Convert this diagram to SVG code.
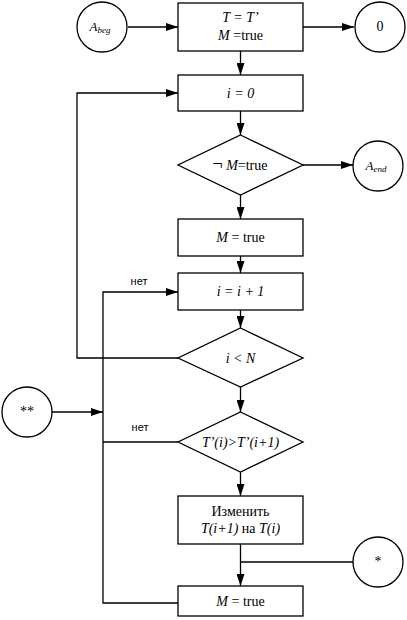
<svg xmlns="http://www.w3.org/2000/svg" width="407" height="620" viewBox="0 0 407 620">
<style>
.s{fill:#fff;stroke:#000;stroke-width:1.3}
.l{fill:none;stroke:#000;stroke-width:1.3}
.n{font-family:"Liberation Sans",Arial,sans-serif;font-size:11px;fill:#000;text-anchor:middle}
</style>
<defs>
<marker id="a" viewBox="0 0 12 8" refX="12" refY="4" markerWidth="12" markerHeight="8" markerUnits="userSpaceOnUse" orient="auto">
<path d="M0,0 L12,4 L0,8 Z" fill="#000"/>
</marker>
</defs>
<rect width="407" height="620" fill="#fff"/>
<g id="connectors">
<line class="l" x1="128" y1="27" x2="178" y2="27" marker-end="url(#a)"/>
<line class="l" x1="303" y1="27" x2="354" y2="27" marker-end="url(#a)"/>
<line class="l" x1="240.5" y1="51" x2="240.5" y2="75" marker-end="url(#a)"/>
<line class="l" x1="240.5" y1="111" x2="240.5" y2="135" marker-end="url(#a)"/>
<line class="l" x1="303" y1="165" x2="353" y2="165" marker-end="url(#a)"/>
<line class="l" x1="240.5" y1="195" x2="240.5" y2="219" marker-end="url(#a)"/>
<line class="l" x1="240.5" y1="256" x2="240.5" y2="273" marker-end="url(#a)"/>
<line class="l" x1="240.5" y1="310" x2="240.5" y2="328" marker-end="url(#a)"/>
<polyline class="l" points="178,358 77,358 77,93 178,93" marker-end="url(#a)"/>
<line class="l" x1="240.5" y1="387" x2="240.5" y2="412" marker-end="url(#a)"/>
<polyline class="l" points="178,603 103,603 103,292 178,292" marker-end="url(#a)"/>
<line class="l" x1="178" y1="442" x2="103" y2="442"/>
<line class="l" x1="52" y1="412" x2="103" y2="412" marker-end="url(#a)"/>
<line class="l" x1="240.5" y1="472" x2="240.5" y2="496" marker-end="url(#a)"/>
<line class="l" x1="240.5" y1="544" x2="240.5" y2="586" marker-end="url(#a)"/>
<line class="l" x1="353" y1="562" x2="240.5" y2="562"/>
<text class="n" x="139" y="285">нет</text>
<text class="n" x="140" y="431">нет</text>
</g>
<g font-family="Liberation Serif, Times New Roman, serif" font-size="14" text-anchor="middle" fill="#000">
<g id="a_beg">
<circle class="s" cx="102" cy="27" r="25"/>
<text x="100" y="31" font-size="13" font-style="italic">A<tspan font-size="9" dy="2">beg</tspan></text>
</g>
<g id="init">
<rect class="s" x="178" y="3" width="125" height="48"/>
<text x="240.5" y="22" font-style="italic">T = T’</text>
<text x="240.5" y="40"><tspan font-style="italic">M</tspan> =true</text>
</g>
<g id="zero">
<circle class="s" cx="380" cy="27" r="25"/>
<text x="380" y="31">0</text>
</g>
<g id="i0">
<rect class="s" x="178" y="75" width="125" height="36"/>
<text x="240.5" y="98" font-style="italic">i = 0</text>
</g>
<g id="cond1">
<polygon class="s" points="240.5,135 303,165 240.5,195 178,165"/>
<text x="240" y="170"><tspan font-size="18">¬</tspan>  <tspan font-style="italic">M</tspan>=true</text>
</g>
<g id="a_end">
<circle class="s" cx="378" cy="166" r="25"/>
<text x="376" y="170" font-size="13" font-style="italic">A<tspan font-size="9" dy="2">end</tspan></text>
</g>
<g id="mtrue1">
<rect class="s" x="178" y="219" width="125" height="37"/>
<text x="240.5" y="242"><tspan font-style="italic">M</tspan> = true</text>
</g>
<g id="inc">
<rect class="s" x="178" y="273" width="125" height="37"/>
<text x="240.5" y="296" font-style="italic">i = i + 1</text>
</g>
<g id="cond2">
<polygon class="s" points="240.5,328 303,358 240.5,387 178,358"/>
<text x="240.5" y="363" font-style="italic">i &lt; N</text>
</g>
<g id="dstar">
<circle class="s" cx="27" cy="412" r="25"/>
<text x="27" y="416">**</text>
</g>
<g id="cond3">
<polygon class="s" points="240.5,412 303,442 240.5,472 178,442"/>
<text x="240.5" y="447" font-style="italic">T’(i)&gt;T’(i+1)</text>
</g>
<g id="swap">
<rect class="s" x="178" y="496" width="125" height="48"/>
<text x="240.5" y="516">Изменить</text>
<text x="240.5" y="533"><tspan font-style="italic">T(i+1)</tspan> на  <tspan font-style="italic">T(i)</tspan></text>
</g>
<g id="star">
<circle class="s" cx="378" cy="562" r="25"/>
<text x="378" y="566">*</text>
</g>
<g id="mtrue2">
<rect class="s" x="178" y="586" width="125" height="30"/>
<text x="240.5" y="606"><tspan font-style="italic">M</tspan> = true</text>
</g>
</g>
</svg>
